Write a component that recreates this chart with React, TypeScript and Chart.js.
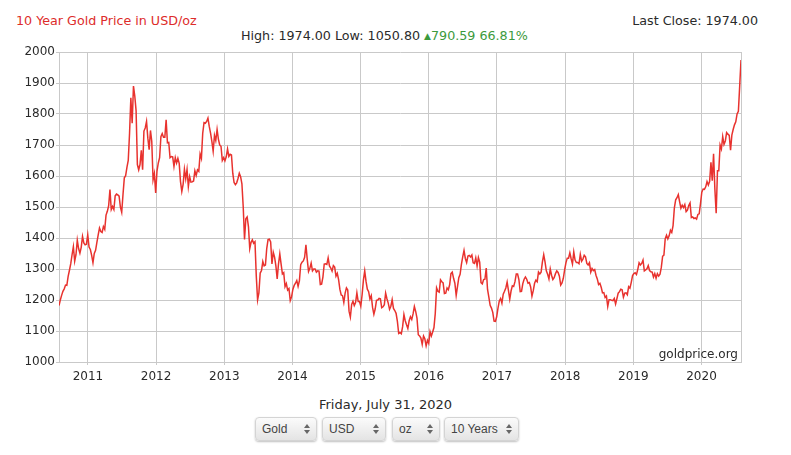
import React, { useEffect, useRef } from "react";
import { Chart, registerables } from "chart.js";

Chart.register(...registerables);

// Weekly (Friday) gold prices, USD/oz, starting Fri 30 Jul 2010
const startYear = 2010 + 210 / 365;
const weekInYears = 7 / 365.25;

const prices2010 = [1182, 1200, 1215, 1228, 1236, 1248, 1247, 1276, 1296, 1317, 1346, 1372, 1325, 1346, 1393, 1366, 1351, 1370, 1405, 1384, 1378, 1380, 1410];
const prices2011 = [1371, 1363, 1344, 1320, 1350, 1360, 1386, 1410, 1432, 1421, 1418, 1437, 1428, 1474, 1486, 1504, 1556, 1492, 1502, 1492, 1536, 1542, 1539, 1535, 1500, 1483, 1541, 1594, 1601, 1628, 1650, 1738, 1852, 1770, 1890, 1858, 1811, 1637, 1620, 1637, 1683, 1620, 1745, 1755, 1776, 1722, 1685, 1747, 1712, 1588, 1608, 1545];
const prices2012 = [1616, 1642, 1659, 1727, 1737, 1725, 1725, 1781, 1707, 1708, 1659, 1663, 1662, 1631, 1659, 1642, 1657, 1641, 1582, 1550, 1573, 1622, 1591, 1621, 1566, 1598, 1580, 1581, 1584, 1617, 1602, 1620, 1615, 1671, 1657, 1738, 1772, 1770, 1776, 1787, 1760, 1738, 1712, 1680, 1731, 1714, 1750, 1719, 1700, 1696, 1650, 1659];
const prices2013 = [1649, 1662, 1687, 1663, 1670, 1668, 1609, 1579, 1572, 1578, 1592, 1609, 1598, 1575, 1501, 1395, 1462, 1468, 1437, 1366, 1386, 1394, 1383, 1388, 1277, 1200, 1223, 1287, 1295, 1324, 1310, 1313, 1366, 1395, 1396, 1387, 1316, 1354, 1338, 1310, 1268, 1316, 1349, 1316, 1284, 1288, 1243, 1253, 1232, 1237, 1198, 1210];
const prices2014 = [1234, 1247, 1254, 1263, 1244, 1262, 1314, 1322, 1326, 1338, 1378, 1331, 1292, 1302, 1319, 1294, 1300, 1300, 1290, 1294, 1293, 1250, 1251, 1274, 1316, 1317, 1315, 1336, 1310, 1303, 1293, 1311, 1306, 1277, 1286, 1266, 1234, 1216, 1214, 1192, 1222, 1239, 1232, 1164, 1145, 1186, 1196, 1182, 1192, 1223, 1195, 1195];
const prices2015 = [1180, 1217, 1264, 1294, 1260, 1235, 1227, 1203, 1214, 1176, 1154, 1171, 1199, 1200, 1205, 1204, 1175, 1178, 1185, 1222, 1204, 1190, 1170, 1180, 1201, 1173, 1166, 1157, 1131, 1092, 1095, 1091, 1114, 1153, 1133, 1120, 1108, 1133, 1146, 1137, 1155, 1179, 1163, 1142, 1088, 1084, 1077, 1057, 1084, 1075, 1052, 1070];
const prices2016 = [1060, 1098, 1084, 1097, 1111, 1157, 1239, 1228, 1225, 1265, 1259, 1255, 1221, 1222, 1239, 1233, 1249, 1285, 1290, 1270, 1254, 1215, 1243, 1272, 1283, 1315, 1339, 1360, 1334, 1321, 1342, 1344, 1339, 1345, 1320, 1318, 1336, 1310, 1337, 1322, 1256, 1252, 1266, 1267, 1303, 1234, 1209, 1183, 1174, 1160, 1132, 1131, 1146];
const prices2017 = [1174, 1197, 1205, 1190, 1219, 1228, 1239, 1258, 1231, 1203, 1229, 1246, 1244, 1259, 1284, 1284, 1266, 1227, 1228, 1253, 1267, 1274, 1267, 1254, 1256, 1242, 1212, 1230, 1254, 1264, 1259, 1290, 1284, 1290, 1323, 1346, 1323, 1294, 1283, 1268, 1300, 1280, 1266, 1272, 1285, 1294, 1289, 1277, 1248, 1255, 1270, 1297];
const prices2018 = [1320, 1335, 1335, 1352, 1333, 1316, 1355, 1329, 1321, 1321, 1317, 1347, 1325, 1332, 1344, 1339, 1318, 1313, 1320, 1290, 1302, 1295, 1298, 1280, 1268, 1250, 1254, 1241, 1223, 1224, 1208, 1213, 1179, 1201, 1201, 1199, 1198, 1205, 1187, 1204, 1222, 1227, 1235, 1233, 1209, 1222, 1223, 1217, 1243, 1238, 1257, 1279];
const prices2019 = [1285, 1288, 1282, 1299, 1320, 1313, 1318, 1329, 1294, 1297, 1301, 1311, 1295, 1291, 1290, 1274, 1285, 1270, 1285, 1277, 1283, 1305, 1341, 1345, 1398, 1409, 1397, 1407, 1425, 1418, 1440, 1497, 1523, 1530, 1540, 1517, 1496, 1506, 1498, 1508, 1485, 1490, 1505, 1513, 1466, 1468, 1463, 1465, 1461, 1476, 1478, 1511];
const prices2020 = [1548, 1558, 1557, 1565, 1582, 1571, 1583, 1644, 1585, 1672, 1558, 1480, 1617, 1617, 1700, 1687, 1727, 1702, 1713, 1740, 1735, 1731, 1683, 1732, 1750, 1765, 1775, 1800, 1809, 1890, 1974];

const allPrices = [
  ...prices2010, ...prices2011, ...prices2012, ...prices2013, ...prices2014,
  ...prices2015, ...prices2016, ...prices2017, ...prices2018, ...prices2019, ...prices2020,
];

const yearTicks = [2011, 2012, 2013, 2014, 2015, 2016, 2017, 2018, 2019, 2020];
const yMin = 1000;
const yMax = 2000;
const yStep = 100;

const selectors = ["Gold", "USD", "oz", "10 Years"];

const FONT = "Verdana, 'DejaVu Sans', sans-serif";
const lineColor = "rgb(232, 50, 46)";
const gridColor = "#c9c9c9";
const textColor = "#2a2a2a";

function SelectBox({ label, left, width }: { label: string; left: number; width: number }) {
  return (
    <div
      style={{
        position: "absolute",
        left,
        top: 417,
        width,
        height: 24,
        boxSizing: "border-box",
        border: "1px solid #d4d4d4",
        borderRadius: 4,
        background: "linear-gradient(#fbfbfb, #e4e4e4)",
        boxShadow: "0 1px 2px rgba(0,0,0,0.25)",
        fontFamily: "'Liberation Sans', Arial, sans-serif",
        fontSize: 12,
        color: "#444",
        lineHeight: "22px",
        paddingLeft: 6,
      }}
    >
      {label}
      <div style={{ position: "absolute", right: 7, top: 6, width: 5, height: 10 }}>
        <div style={{ width: 0, height: 0, borderLeft: "3px solid transparent", borderRight: "3px solid transparent", borderBottom: "4px solid #666" }} />
        <div style={{ height: 2 }} />
        <div style={{ width: 0, height: 0, borderLeft: "3px solid transparent", borderRight: "3px solid transparent", borderTop: "4px solid #666" }} />
      </div>
    </div>
  );
}

export default function App() {
  const ref = useRef<HTMLCanvasElement>(null);

  useEffect(() => {
    const canvas = ref.current;
    if (!canvas) return;
    const points = allPrices.map((p, i) => ({ x: startYear + i * weekInYears, y: p }));

    const rightBorder = {
      id: "rightBorder",
      beforeDatasetsDraw(chart: any) {
        const { ctx, chartArea } = chart;
        ctx.save();
        ctx.strokeStyle = gridColor;
        ctx.lineWidth = 1;
        const x = Math.round(chartArea.right) + 0.5;
        ctx.beginPath();
        ctx.moveTo(x, chartArea.top);
        ctx.lineTo(x, chartArea.bottom);
        ctx.stroke();
        ctx.restore();
      },
    };

    const chart = new Chart(canvas, {
      type: "line",
      data: {
        datasets: [
          {
            data: points,
            borderColor: lineColor,
            borderWidth: 1.5,
            pointRadius: 0,
            tension: 0,
            fill: false,
          },
        ],
      },
      options: {
        animation: false,
        responsive: false,
        devicePixelRatio: 1,
        layout: { padding: { left: 0, right: 50, top: 52, bottom: 0 } },
        plugins: { legend: { display: false }, tooltip: { enabled: false } },
        scales: {
          x: {
            type: "linear",
            min: points[0].x,
            max: points[points.length - 1].x,
            afterBuildTicks: (scale: any) => {
              scale.ticks = yearTicks.map((v) => ({ value: v }));
            },
            afterFit: (scale: any) => {
              scale.height = 33;
            },
            grid: { color: gridColor, tickLength: 3 },
            border: { color: gridColor },
            ticks: {
              autoSkip: false,
              maxRotation: 0,
              padding: 5,
              color: textColor,
              font: { family: FONT, size: 12 },
              callback: (v: any) => String(v),
            },
          },
          y: {
            min: yMin,
            max: yMax,
            afterFit: (scale: any) => {
              scale.width = 59;
            },
            grid: { color: gridColor, tickLength: 3 },
            border: { color: gridColor },
            ticks: {
              stepSize: yStep,
              padding: 1,
              color: textColor,
              font: { family: FONT, size: 12 },
              callback: (v: any) => String(v),
            },
          },
        },
      },
      plugins: [rightBorder],
    });
    return () => chart.destroy();
  }, []);

  const boxes = [
    { left: 255, width: 62 },
    { left: 322, width: 64 },
    { left: 392, width: 48 },
    { left: 444, width: 75 },
  ];

  return (
    <div style={{ position: "fixed", left: 0, top: 0, width: 791, height: 455, background: "#fff", overflow: "hidden" }}>
      <div style={{ position: "absolute", left: 16, top: 13, fontFamily: FONT, fontSize: 12.7, lineHeight: "16px", color: "#dd2c2a", whiteSpace: "nowrap" }}>
        10 Year Gold Price in USD/oz
      </div>
      <div style={{ position: "absolute", right: 33, top: 13, fontFamily: FONT, fontSize: 12.7, lineHeight: "16px", color: textColor, whiteSpace: "nowrap" }}>
        Last Close: 1974.00
      </div>
      <div style={{ position: "absolute", left: 241, top: 28, fontFamily: FONT, fontSize: 12.7, lineHeight: "16px", color: textColor, whiteSpace: "nowrap" }}>
        High: 1974.00 Low: 1050.80{" "}
        <span style={{ color: "#3c9a3c" }}>
          <span style={{ fontSize: 9, verticalAlign: 1 }}>▲</span>790.59 66.81%
        </span>
      </div>
      <canvas ref={ref} width={791} height={395} style={{ position: "absolute", left: 0, top: 0, width: 791, height: 395 }} />
      <div style={{ position: "absolute", right: 53, top: 347, fontFamily: FONT, fontSize: 12, lineHeight: "15px", color: textColor, whiteSpace: "nowrap" }}>
        goldprice.org
      </div>
      <div style={{ position: "absolute", left: 0, width: 771, top: 397, textAlign: "center", fontFamily: FONT, fontSize: 13, lineHeight: "16px", color: textColor, whiteSpace: "nowrap" }}>
        Friday, July 31, 2020
      </div>
      {selectors.map((s, i) => (
        <SelectBox key={s} label={s} left={boxes[i].left} width={boxes[i].width} />
      ))}
    </div>
  );
}
